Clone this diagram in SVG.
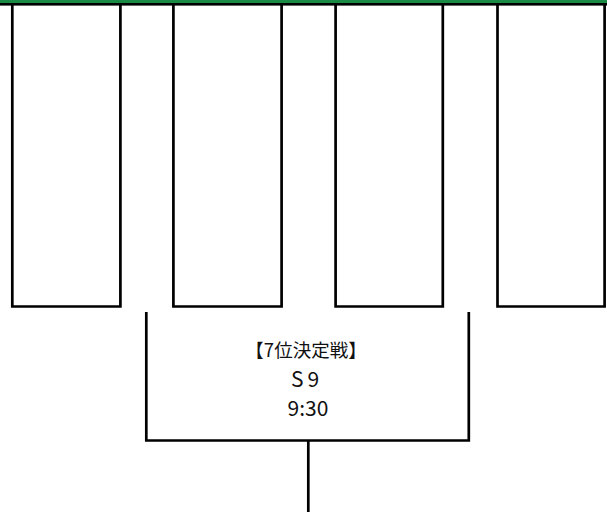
<svg xmlns="http://www.w3.org/2000/svg" width="607" height="512" viewBox="0 0 607 512">
<style>
.ln{fill:none;stroke:#000;stroke-width:2.7;stroke-linecap:butt;stroke-linejoin:miter}
.t{font-family:"Noto Sans CJK JP","Noto Sans",sans-serif;fill:#111;text-anchor:middle}
.t1{font-size:18.5px}
.t2{font-size:21px}
</style>
<rect width="607" height="512" fill="#fff"/>
<g id="header">
<rect x="0" y="0" width="607" height="3" fill="#1a8a45"/>
<rect x="0" y="3" width="607" height="2.6" fill="#000"/>
</g>
<g id="box1"><path class="ln" d="M12.3,5 V306.5 H120.4 V5"/></g>
<g id="box2"><path class="ln" d="M173.4,5 V306.5 H281.6 V5"/></g>
<g id="box3"><path class="ln" d="M335.6,5 V306.5 H442.8 V5"/></g>
<g id="box4"><path class="ln" d="M497.5,5 V306.5 H604.6 V5"/></g>
<g id="connectors">
<path class="ln" d="M146.3,312 V440.5 H468.8 V312"/>
<path class="ln" d="M308.3,440.5 V512"/>
</g>
<g id="match">
<text class="t t1" x="306" y="357">【7位決定戦】</text>
<text class="t t2" x="307" y="387" letter-spacing="4">S9</text>
<text class="t t2" x="308" y="416">9:30</text>
</g>
</svg>
